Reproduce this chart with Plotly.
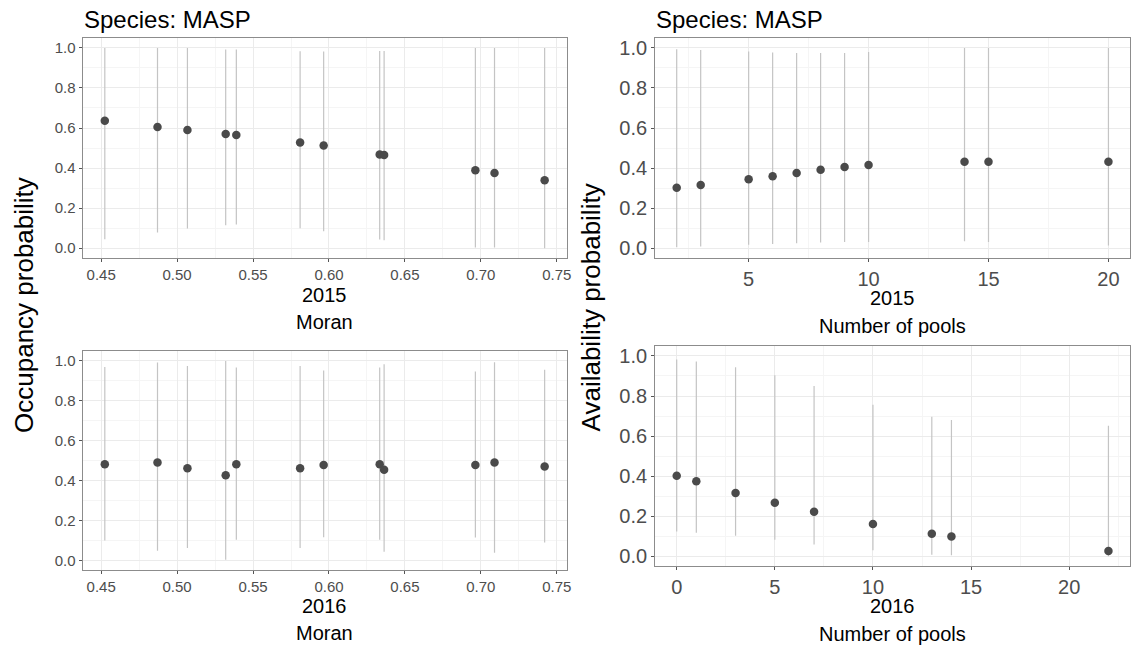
import plotly.graph_objects as go

# ---------------- data ----------------
moran_x = [0.4524, 0.4871, 0.5068, 0.5320, 0.5390, 0.5810, 0.5965,
           0.6334, 0.6363, 0.6964, 0.7090, 0.7420]

occ2015_mean = [0.636, 0.605, 0.590, 0.570, 0.565, 0.528, 0.513,
                0.468, 0.465, 0.389, 0.375, 0.339]
occ2015_lo = [0.045, 0.078, 0.098, 0.115, 0.118, 0.100, 0.085,
              0.043, 0.040, 0.003, 0.003, 0.000]
occ2015_hi = [1.000, 1.000, 1.000, 0.992, 0.992, 0.983, 0.982,
              0.985, 0.985, 1.000, 1.000, 1.000]

occ2016_mean = [0.482, 0.490, 0.462, 0.427, 0.482, 0.462, 0.478,
                0.482, 0.454, 0.478, 0.490, 0.470]
occ2016_lo = [0.099, 0.048, 0.061, 0.003, 0.103, 0.061, 0.116,
              0.103, 0.043, 0.114, 0.038, 0.089]
occ2016_hi = [0.969, 0.992, 0.974, 1.000, 0.967, 0.974, 0.952,
              0.967, 0.983, 0.947, 0.993, 0.955]

pools2015_x = [2, 3, 5, 6, 7, 8, 9, 10, 14, 15, 20]
avail2015_mean = [0.302, 0.316, 0.344, 0.359, 0.375, 0.392, 0.405,
                  0.415, 0.431, 0.431, 0.431]
avail2015_lo = [0.005, 0.008, 0.017, 0.021, 0.025, 0.028, 0.031,
                0.031, 0.035, 0.031, 0.013]
avail2015_hi = [0.993, 0.990, 0.982, 0.977, 0.975, 0.974, 0.975,
                0.979, 1.000, 1.000, 1.000]

pools2016_x = [0, 1, 3, 5, 7, 10, 13, 14, 22]
avail2016_mean = [0.402, 0.374, 0.316, 0.267, 0.222, 0.161, 0.112, 0.099, 0.026]
avail2016_lo = [0.124, 0.117, 0.102, 0.082, 0.059, 0.030, 0.008, 0.005, 0.000]
avail2016_hi = [0.982, 0.972, 0.944, 0.904, 0.850, 0.756, 0.697, 0.680, 0.652]

y_ticks = [0.0, 0.2, 0.4, 0.6, 0.8, 1.0]
moran_ticks = [0.45, 0.50, 0.55, 0.60, 0.65, 0.70, 0.75]
pools2015_ticks = [5, 10, 15, 20]
pools2016_ticks = [0, 5, 10, 15, 20]

# ---------------- style ----------------
W, H = 1139, 651
FONT = "Liberation Sans, Arial, sans-serif"
PT_COLOR = "#4a4a4a"
BAR_COLOR = "#c4c4c4"
GRID = "#ebebeb"
MINOR = "#f5f5f5"
BORDER = "#8c8c8c"
TICKTXT = "#4d4d4d"


def px_x(p):
    return p / W


def px_y(p):
    return 1 - p / H


fig = go.Figure()


def add_panel(idx, x, mean, lo, hi):
    plus = [h - m for h, m in zip(hi, mean)]
    minus = [m - l for m, l in zip(mean, lo)]
    sfx = "" if idx == 1 else str(idx)
    fig.add_trace(go.Scatter(
        x=x, y=mean, mode="markers",
        marker=dict(color=PT_COLOR, size=8.5),
        error_y=dict(type="data", symmetric=False, array=plus,
                     arrayminus=minus, width=0, thickness=1.2,
                     color=BAR_COLOR),
        xaxis="x" + sfx, yaxis="y" + sfx, showlegend=False,
        hoverinfo="skip"))


add_panel(1, moran_x, occ2015_mean, occ2015_lo, occ2015_hi)
add_panel(2, pools2015_x, avail2015_mean, avail2015_lo, avail2015_hi)
add_panel(3, moran_x, occ2016_mean, occ2016_lo, occ2016_hi)
add_panel(4, pools2016_x, avail2016_mean, avail2016_lo, avail2016_hi)


def axis_common(size):
    return dict(showline=True, mirror=True, linecolor=BORDER, linewidth=1,
                showgrid=True, gridcolor=GRID, gridwidth=1, zeroline=False,
                ticks="outside", ticklen=3, tickcolor="#555", tickwidth=1,
                tickfont=dict(family=FONT, size=size, color=TICKTXT))


def moran_axis(domain, anchor):
    d = axis_common(15)
    d.update(domain=domain, anchor=anchor, range=[0.4378, 0.7564],
             tickvals=moran_ticks, tickformat=".2f",
             minor=dict(tickvals=[0.475, 0.525, 0.575, 0.625, 0.675, 0.725],
                        showgrid=True, gridcolor=MINOR, gridwidth=1, ticks=""))
    return d


def yaxis(domain, anchor, size):
    d = axis_common(size)
    d.update(domain=domain, anchor=anchor, range=[-0.05, 1.05],
             tickvals=y_ticks, tickformat=".1f",
             minor=dict(tickvals=[0.1, 0.3, 0.5, 0.7, 0.9], showgrid=True,
                        gridcolor=MINOR, gridwidth=1, ticks=""))
    return d


left_dom = [px_x(83), px_x(569)]
right_dom = [px_x(658), px_x(1135)]
top_dom = [px_y(258), px_y(37)]
bl_dom = [px_y(571), px_y(351)]
br_dom = [px_y(567), px_y(346)]

xa2 = axis_common(20)
xa2.update(domain=right_dom, anchor="y2", range=[1.1, 20.9],
           tickvals=pools2015_ticks,
           minor=dict(tickvals=[2.5, 7.5, 12.5, 17.5], showgrid=True,
                      gridcolor=MINOR, gridwidth=1, ticks=""))
xa4 = axis_common(20)
xa4.update(domain=right_dom, anchor="y4", range=[-1.1, 23.1],
           tickvals=pools2016_ticks,
           minor=dict(tickvals=[2.5, 7.5, 12.5, 17.5, 22.5], showgrid=True,
                      gridcolor=MINOR, gridwidth=1, ticks=""))

fig.update_layout(
    width=W, height=H, autosize=False,
    margin=dict(l=0, r=0, t=0, b=0),
    paper_bgcolor="white", plot_bgcolor="white",
    font=dict(family=FONT, color="black"),
    showlegend=False,
    xaxis=moran_axis(left_dom, "y"),
    yaxis=yaxis(top_dom, "x", 15),
    xaxis2=xa2,
    yaxis2=yaxis(top_dom, "x2", 20),
    xaxis3=moran_axis(left_dom, "y3"),
    yaxis3=yaxis(bl_dom, "x3", 15),
    xaxis4=xa4,
    yaxis4=yaxis(br_dom, "x4", 20),
)

annots = []


def txt(text, x, y, size, xanchor="center", angle=0, color="black"):
    annots.append(dict(text=text, x=px_x(x), y=px_y(y), xref="paper",
                       yref="paper", showarrow=False, xanchor=xanchor,
                       yanchor="middle", textangle=angle,
                       font=dict(family=FONT, size=size, color=color)))


# panel titles
txt("Species: MASP", 82, 19, 24, xanchor="left")
txt("Species: MASP", 657, 19, 24, xanchor="left")
# x axis titles
lc = (83 + 569) / 2
rc = (658 + 1135) / 2
txt("2015", lc, 295, 20)
txt("Moran", lc, 322, 20)
txt("2016", lc, 607, 20)
txt("Moran", lc, 634, 20)
txt("2015", rc, 298, 20)
txt("Number of pools", rc, 326, 20)
txt("2016", rc, 607, 20)
txt("Number of pools", rc, 635, 20)
# y axis titles
txt("Occupancy probability", 24, 305, 26, angle=-90)
txt("Availability probability", 594, 307, 26, angle=-90)

fig.update_layout(annotations=annots)

fig.write_html("out.html")
